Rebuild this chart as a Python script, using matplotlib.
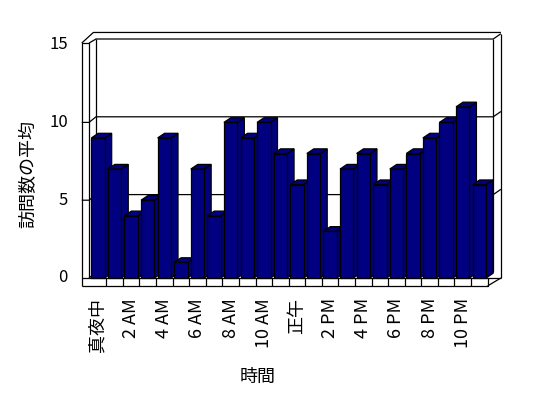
import matplotlib.pyplot as plt
from matplotlib.patches import Polygon

plt.rcParams['font.family'] = ['Noto Sans CJK JP', 'DejaVu Sans']

# average visits per hour (24 hourly bars)
visits = [9, 7, 4, 5, 9, 1, 7, 4, 10, 9, 10, 8,
          6, 8, 3, 7, 8, 6, 7, 8, 9, 10, 11, 6]
hour_labels = ['真夜中', '2 AM', '4 AM', '6 AM', '8 AM', '10 AM',
               '正午', '2 PM', '4 PM', '6 PM', '8 PM', '10 PM']
y_ticks = [0, 5, 10, 15]

bar_color = '#000080'
bar_w = 0.81
depth_x, depth_y = 0.42, 0.30      # bar depth offset

# frame geometry (data units)
xa0, xa1 = -0.98, -0.54            # left wall outer / inner
xb0, xb1, xb2 = -0.12, 23.84, 24.30  # back wall left / right inner / right outer
xr = 23.5                          # floor right end
yb = 0.36                          # back wall lift
yo = 0.34                          # wall thickness lift
yf = -0.51                         # floor bottom
ytop = 15.1

fig = plt.figure(figsize=(5.48, 3.98), dpi=100)
ax = fig.add_axes([0, 0, 1, 1])
ax.set_xlim((0 - 98) / 16.58, (548 - 98) / 16.58)
ax.set_ylim((278 - 398) / 15.56, 278 / 15.56)
ax.axis('off')

lw = 0.9
def line(xs, ys):
    ax.plot(xs, ys, color='black', lw=lw, solid_capstyle='butt', zorder=1)

# back wall + left wall
line([xa0, xa0, xa1, xa1], [yf, ytop, ytop, 0])
line([xa0, xb0 - 0.16, xb2], [ytop, ytop + yb + yo - 0.02, ytop + yb + yo - 0.02])
line([xa1, xb0, xb1, xb2], [ytop, 15 + yb, 15 + yb, 15 + yb + yo])
line([xb0, xb0], [15 + yb, yb])
line([xb1, xb1], [15 + yb, yb])
line([xb2, xb2], [15 + yb + yo, 0.0])
line([xa1, xb0, xb1], [0, yb, yb])
for v in y_ticks[1:3]:
    line([xa0, xa1, xb0, xb1, xb2], [v, v, v + yb, v + yb, v + yb + yo])
line([xa0, xa1], [0, 0])

# floor
line([xa0, xr, xr, xb2], [yf, yf, 0, 0.0])
line([xr, xb2], [yf, 0.0])
line([xa1, xr], [0, 0])
ax.vlines([i + 0.5 for i in range(len(visits) - 1)], yf, 0,
          color='black', lw=lw, zorder=1)

# bars
x = list(range(len(visits)))
bars = ax.bar(x, visits, width=bar_w, color=bar_color,
              edgecolor='black', linewidth=lw)
for i, (rect, v) in enumerate(zip(bars, visits)):
    z = 2 + i * 0.01
    l, r = i - bar_w / 2, i + bar_w / 2
    side = Polygon([(r, 0), (r + depth_x, depth_y), (r + depth_x, v + depth_y), (r, v)],
                   closed=True, facecolor=bar_color, edgecolor='black', lw=lw, zorder=z)
    top = Polygon([(l, v), (r, v), (r + depth_x, v + depth_y), (l + depth_x, v + depth_y)],
                  closed=True, facecolor=bar_color, edgecolor='black', lw=lw, zorder=z)
    ax.add_patch(side)
    ax.add_patch(top)
    rect.set_zorder(z + 0.005)

# tick labels
for v in y_ticks:
    ax.text(-1.81, v, str(v), ha='right', va='center', fontsize=12)
for k, lab in enumerate(hour_labels):
    ax.text(2 * k, -1.29, lab, rotation=90, ha='center', va='top', fontsize=13)

fig.text(28.5 / 548, 1 - 174 / 398, '訪問数の平均', rotation=90,
         ha='center', va='center', fontsize=13)
fig.text(258 / 548, 1 - 377 / 398, '時間', ha='center', va='center', fontsize=13)

fig.savefig('out.png', dpi=100)
